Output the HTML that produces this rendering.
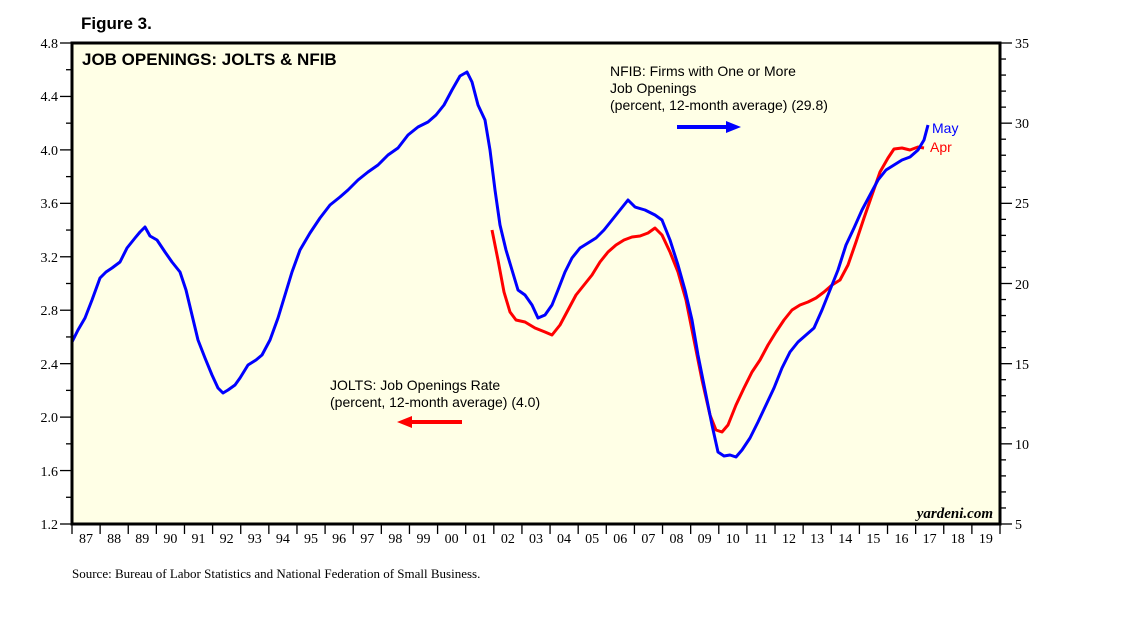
<!DOCTYPE html>
<html><head><style>
body{margin:0;background:#fff;}
svg text{font-family:"Liberation Sans",sans-serif;}
.s{font-family:"Liberation Serif",serif !important;}
</style></head><body>
<svg width="1138" height="621" viewBox="0 0 1138 621" xmlns="http://www.w3.org/2000/svg">
<rect x="72" y="43" width="928" height="481" fill="#ffffe6"/>
<text x="81" y="29" font-size="17" font-weight="bold">Figure 3.</text>
<text x="82" y="65" font-size="17" font-weight="bold">JOB OPENINGS: JOLTS &amp; NFIB</text>
<g id="lt" stroke="#000" stroke-width="1.3"></g>
<g class="s" font-size="14" fill="#000">
<text x="58" y="48" text-anchor="end" class="s">4.8</text>
<text x="58" y="101" text-anchor="end" class="s">4.4</text>
<text x="58" y="155" text-anchor="end" class="s">4.0</text>
<text x="58" y="208" text-anchor="end" class="s">3.6</text>
<text x="58" y="262" text-anchor="end" class="s">3.2</text>
<text x="58" y="315" text-anchor="end" class="s">2.8</text>
<text x="58" y="369" text-anchor="end" class="s">2.4</text>
<text x="58" y="422" text-anchor="end" class="s">2.0</text>
<text x="58" y="476" text-anchor="end" class="s">1.6</text>
<text x="58" y="529" text-anchor="end" class="s">1.2</text>
<text x="1015" y="48" class="s">35</text>
<text x="1015" y="128" class="s">30</text>
<text x="1015" y="208" class="s">25</text>
<text x="1015" y="289" class="s">20</text>
<text x="1015" y="369" class="s">15</text>
<text x="1015" y="449" class="s">10</text>
<text x="1015" y="529" class="s">5</text>
</g>
<g id="xl" font-size="14"></g>
<text x="72" y="578" font-size="13" class="s">Source:  Bureau of Labor Statistics and National Federation of Small Business.</text>
<text x="610" y="76" font-size="14">NFIB: Firms with One or More</text>
<text x="610" y="93" font-size="14">Job Openings</text>
<text x="610" y="110" font-size="14">(percent, 12-month average) (29.8)</text>
<line x1="677" y1="127" x2="728" y2="127" stroke="#0000ff" stroke-width="4"/>
<polygon points="726,121 741,127 726,133" fill="#0000ff"/>
<text x="330" y="390" font-size="14">JOLTS: Job Openings Rate</text>
<text x="330" y="407" font-size="14">(percent, 12-month average) (4.0)</text>
<line x1="410" y1="422" x2="462" y2="422" stroke="#ff0000" stroke-width="4"/>
<polygon points="412,416 397,422 412,428" fill="#ff0000"/>
<text x="932" y="133" font-size="14" fill="#0000ff">May</text>
<text x="930" y="152" font-size="14" fill="#ff0000">Apr</text>
<text x="993" y="518" font-size="15" font-weight="bold" font-style="italic" text-anchor="end" class="s">yardeni.com</text>
<polyline fill="none" stroke="#ff0000" stroke-width="3" stroke-linejoin="round" points="492,230 498,260 504,292 510,312 516,320 525,322 535,328 545,332 552,335 560,325 568,310 576,295 584,285 592,275 600,262 608,252 616,245 624,240 632,237 640,236 648,233 655,228 662,235 670,252 678,272 686,300 694,340 702,380 710,415 716,430 722,432 728,425 736,405 744,388 752,372 760,360 768,345 776,332 784,320 792,310 800,305 808,302 816,298 824,292 832,285 840,280 848,265 856,242 864,218 872,195 880,172 888,158 894,149 902,148 910,150 918,147 924,148"/>
<polyline fill="none" stroke="#0000ff" stroke-width="3" stroke-linejoin="round" points="72,342 78,330 85,318 92,300 100,278 106,272 112,268 120,262 127,248 135,238 140,232 145,227 150,236 157,240 165,252 172,262 180,272 186,290 192,315 198,340 205,358 212,375 218,388 223,393 228,390 235,385 240,378 248,365 256,360 262,355 270,340 278,318 285,295 292,272 300,250 310,233 320,218 330,205 340,197 348,190 358,180 368,172 378,165 388,155 398,148 408,135 418,127 428,122 436,115 444,105 452,90 460,76 467,72 472,82 478,105 485,120 490,150 495,190 500,225 506,250 512,270 518,290 525,295 532,305 538,318 545,315 552,305 558,290 565,272 572,258 580,248 588,243 596,238 604,230 612,220 620,210 628,200 635,207 645,210 655,215 662,220 670,240 678,265 685,290 692,320 698,355 705,390 712,425 718,452 724,456 730,455 736,457 742,450 750,438 758,422 766,405 774,388 782,368 790,352 798,342 806,335 814,328 822,310 830,290 838,270 846,245 854,228 862,210 870,195 878,180 886,170 894,165 902,160 910,157 918,150 924,140 928,125"/>
<rect x="72" y="43" width="928" height="481" fill="none" stroke="#000" stroke-width="3"/>
</svg>
<script>
const ns="http://www.w3.org/2000/svg";
const lt=document.getElementById('lt');
function L(x1,y1,x2,y2){const l=document.createElementNS(ns,'line');l.setAttribute('x1',x1);l.setAttribute('y1',y1);l.setAttribute('x2',x2);l.setAttribute('y2',y2);lt.appendChild(l);}
for(let i=0;i<=18;i++){const y=43+i*481/18;L(i%2==0?60:66,y,72,y);}
for(let i=0;i<=30;i++){const y=43+i*481/30;L(1000,y,i%5==0?1012:1006,y);}
const xl=document.getElementById('xl');
for(let i=0;i<=33;i++){const x=72+i*928/33;L(x,524,x,534);
if(i<33){const t=document.createElementNS(ns,'text');t.setAttribute('x',x+14);t.setAttribute('y',543);t.setAttribute('text-anchor','middle');t.setAttribute('class','s');t.textContent=String((87+i)%100).padStart(2,'0');xl.appendChild(t);}}
</script>
</body></html>
